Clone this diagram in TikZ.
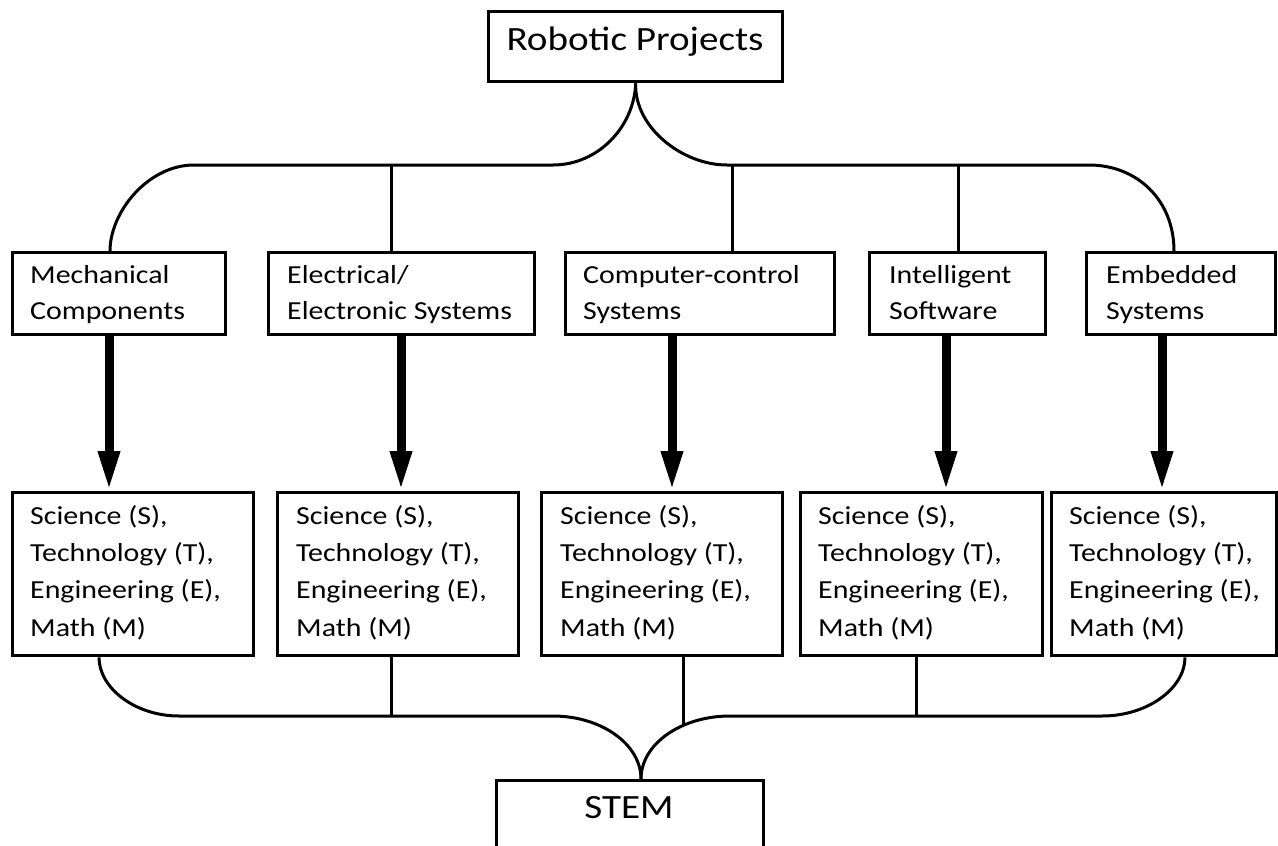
\documentclass[tikz,border=0pt]{standalone}
\usepackage{fontspec}
\setmainfont{Carlito}[FakeStretch=1.15]
\usetikzlibrary{arrows.meta}
\newcommand\stemlines{\rule{0pt}{22pt}Science (S),\\Technology (T),\\Engineering (E),\\Math (M)}
\begin{document}
\begin{tikzpicture}[x=1pt,y=-1pt,
  box/.style={draw, line width=3.4pt, rectangle, inner sep=0pt, anchor=north west},
  small/.style={font=\fontsize{26}{37.3}\selectfont, anchor=north west, inner sep=0pt, align=left},
  smallone/.style={font=\fontsize{26}{36}\selectfont, anchor=north west, inner sep=0pt, align=left},
  big/.style={font=\fontsize{34}{40}\selectfont, anchor=base, inner sep=0pt},
  conn/.style={line width=3pt, line join=round},
  fat/.style={line width=9pt, -{Triangle[length=40pt,width=20pt]}}
]
\fill[white] (0,0) rectangle (1278,846);
\clip (0,0) rectangle (1278,846);

% top and bottom boxes
\node[box, minimum width=294pt, minimum height=70pt] (top) at (487,10) {};
\node[big] (topt) at (635,50) {Robotic Projects};
\node[box, minimum width=267pt, minimum height=100pt] (stem) at (495,779) {};
\node[big] (stemt) at (629,818) {STEM};

% row 1
\node[box, minimum width=213pt, minimum height=82pt] (m1) at (11,251) {};
\node[box, minimum width=266pt, minimum height=82pt] (m2) at (267,251) {};
\node[box, minimum width=269pt, minimum height=82pt] (m3) at (564,251) {};
\node[box, minimum width=176pt, minimum height=82pt] (m4) at (868,251) {};
\node[box, minimum width=189pt, minimum height=82pt] (m5) at (1085,251) {};
\node[smallone] (m1t) at (30,261.5) {\rule{0pt}{22pt}Mechanical\\Components};
\node[smallone] (m2t) at (287,261.5) {\rule{0pt}{22pt}Electrical/\\Electronic Systems};
\node[smallone] (m3t) at (583,261.5) {\rule{0pt}{22pt}Computer-control\\Systems};
\node[smallone] (m4t) at (889,261.5) {\rule{0pt}{22pt}Intelligent\\Software};
\node[smallone] (m5t) at (1106,261.5) {\rule{0pt}{22pt}Embedded\\Systems};

% row 2
\node[box, minimum width=241pt, minimum height=163pt] (s1) at (11,491) {};
\node[box, minimum width=241pt, minimum height=163pt] (s2) at (276,491) {};
\node[box, minimum width=241pt, minimum height=163pt] (s3) at (540,491) {};
\node[box, minimum width=242pt, minimum height=163pt] (s4) at (799,491) {};
\node[box, minimum width=225pt, minimum height=163pt] (s5) at (1050,491) {};
\node[small] (s1t) at (30,502) {\stemlines};
\node[small] (s2t) at (296,502) {\stemlines};
\node[small] (s3t) at (560,502) {\stemlines};
\node[small] (s4t) at (818,502) {\stemlines};
\node[small] (s5t) at (1069,502) {\stemlines};

% top tree
\coordinate (j2) at (391,165);
\coordinate (j3) at (732,165);
\coordinate (j4) at (958,165);
\draw[conn] (top.south) .. controls (634,127) and (598,165) .. (553,165) -- (194,165)
  .. controls (148,165) and (110,212) .. (110,0 |- m1.north);
\draw[conn] (top.south) .. controls (634,127) and (682,165) .. (727,165) -- (1089,165)
  .. controls (1137,165) and (1174,200) .. (1174,0 |- m5.north);
\draw[conn] (j2) -- (j2 |- m2.north);
\draw[conn] (j3) -- (j3 |- m3.north);
\draw[conn] (j4) -- (j4 |- m4.north);

% thick arrows
\draw[fat] (109,0 |- m1.south) -- (109,0 |- s1.north);
\draw[fat] (401,0 |- m2.south) -- (401,0 |- s2.north);
\draw[fat] (672,0 |- m3.south) -- (672,0 |- s3.north);
\draw[fat] (946,0 |- m4.south) -- (946,0 |- s4.north);
\draw[fat] (1162,0 |- m5.south) -- (1162,0 |- s5.north);

% bottom tree
\coordinate (b2) at (391,716);
\coordinate (b3) at (683,725.3);
\coordinate (b4) at (916,716);
\draw[conn] (99,0 |- s1.south) .. controls (99,688) and (135,716) .. (179,716) -- (553,716)
  .. controls (601,716) and (641,744) .. (641,0 |- stem.north);
\draw[conn] (641,0 |- stem.north) .. controls (641,744) and (681,716) .. (730,716) -- (1102,716)
  .. controls (1148,716) and (1185,688) .. (1185,0 |- s5.south);
\draw[conn] (b2 |- s2.south) -- (b2);
\draw[conn] (b3 |- s3.south) -- (b3);
\draw[conn] (b4 |- s4.south) -- (b4);
\end{tikzpicture}
\end{document}
